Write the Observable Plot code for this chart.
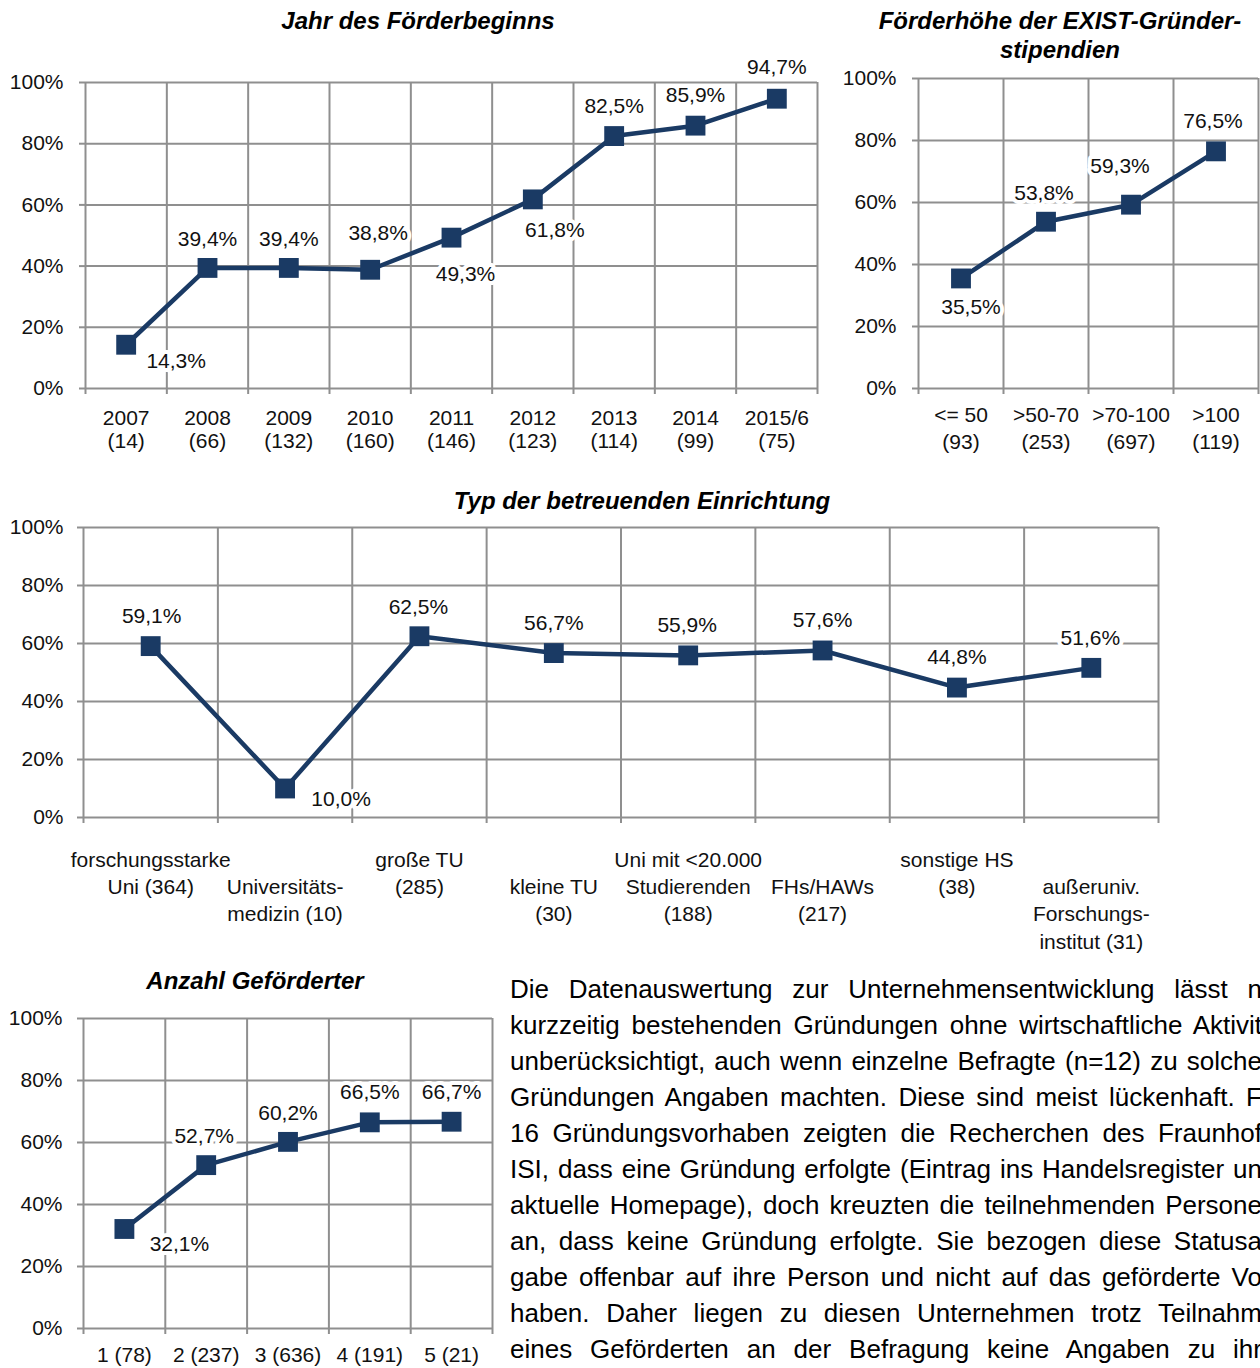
<!DOCTYPE html>
<html><head><meta charset="utf-8">
<script src="https://cdn.jsdelivr.net/npm/d3@7"></script>
<script src="https://cdn.jsdelivr.net/npm/@observablehq/plot@0.6"></script>
<style>
body{margin:0;background:#fff;}
#page{position:relative;width:1260px;height:1368px;overflow:hidden;font-family:"Liberation Sans",Arial,sans-serif;color:#111;background:#fff;}
.chart{position:absolute;}
.chart svg{overflow:visible;}
.title{position:absolute;font-weight:bold;font-style:italic;font-size:24px;line-height:29px;text-align:center;white-space:nowrap;transform:translate(-50%,-50%);color:#000;}
.para{position:absolute;left:510px;top:971px;width:760px;font-size:26px;line-height:36px;color:#000;}
.para div{white-space:nowrap;height:36px;}
.para span{white-space:nowrap;}
</style></head>
<body>
<div id="page">
  <div class="title" style="left:418px;top:20px;">Jahr des Förderbeginns</div>
  <div class="title" style="left:1060px;top:35px;">Förderhöhe der EXIST-Gründer-<br>stipendien</div>
  <div class="title" style="left:642px;top:500px;">Typ der betreuenden Einrichtung</div>
  <div class="title" style="left:255px;top:980px;">Anzahl Geförderter</div>
  <div class="chart" id="c1" style="left:0px;top:40px;"></div>
  <div class="chart" id="c2" style="left:830px;top:50px;"></div>
  <div class="chart" id="c3" style="left:0px;top:510px;"></div>
  <div class="chart" id="c4" style="left:0px;top:1000px;"></div>
  <div class="para" id="para"></div>
</div>
<script>
// ---------- data ----------
const yearCats = ["2007\n(14)", "2008\n(66)", "2009\n(132)", "2010\n(160)", "2011\n(146)", "2012\n(123)", "2013\n(114)", "2014\n(99)", "2015/6\n(75)"];
const yearValues = [0.143, 0.394, 0.394, 0.388, 0.493, 0.618, 0.825, 0.859, 0.947];

const amountCats = ["<= 50\n(93)", ">50-70\n(253)", ">70-100\n(697)", ">100\n(119)"];
const amountValues = [0.355, 0.538, 0.593, 0.765];

const typeCats = ["forschungsstarke\nUni (364)", "Universitäts-\nmedizin (10)", "große TU\n(285)", "kleine TU\n(30)", "Uni mit <20.000\nStudierenden\n(188)", "FHs/HAWs\n(217)", "sonstige HS\n(38)", "außeruniv.\nForschungs-\ninstitut (31)"];
const typeValues = [0.591, 0.100, 0.625, 0.567, 0.559, 0.576, 0.448, 0.516];

const countCats = ["1 (78)", "2 (237)", "3 (636)", "4 (191)", "5 (21)"];
const countValues = [0.321, 0.527, 0.602, 0.665, 0.667];

const yTicks = [0, 0.2, 0.4, 0.6, 0.8, 1];

const paragraphLines = [
  "Die Datenauswertung zur Unternehmensentwicklung lässt n",
  "kurzzeitig bestehenden Gründungen ohne wirtschaftliche Aktivit",
  "unberücksichtigt, auch wenn einzelne Befragte (n=12) zu solche",
  "Gründungen Angaben machten. Diese sind meist lückenhaft. F",
  "16 Gründungsvorhaben zeigten die Recherchen des Fraunhof",
  "ISI, dass eine Gründung erfolgte (Eintrag ins Handelsregister un",
  "aktuelle Homepage), doch kreuzten die teilnehmenden Persone",
  "an, dass keine Gründung erfolgte. Sie bezogen diese Statusa",
  "gabe offenbar auf ihre Person und nicht auf das geförderte Vo",
  "haben. Daher liegen zu diesen Unternehmen trotz Teilnahm",
  "eines Geförderten an der Befragung keine Angaben zu ihr"
];

// ---------- layout (label offsets in px) ----------
const off1 = [[50,17],[0,-29],[0,-29],[8,-37],[14,37],[22,31],[0,-30],[0,-30],[0,-31]];
const off2 = [[10,29],[-2,-28],[-11,-38],[-3,-30]];
const off3 = [[1,-30],[56,11],[-1,-29],[0,-30],[-1,-30],[0,-30],[0,-30],[-1,-30]];
const off4 = [[55,15],[-2,-29],[0,-29],[0,-30],[0,-29]];

const FONT = "Liberation Sans, Arial, sans-serif";
const NAVY = "#1a3a64";
const GRID = "#8f8f8f";
const de = d3.formatLocale({decimal: ",", thousands: ".", grouping: [3], currency: ["", "€"]});
const fmt1 = de.format(".1%");
const fmt0 = de.format(".0%");

function lineChart({cats, values, offsets, width, height, margins, lineHeight, xPad, yPad, stagger}) {
  const n = cats.length;
  const data = values.map((v, k) => ({pos: k + 0.5, v, label: fmt1(v)}));
  const bounds = d3.range(n + 1);
  const labelMarks = data.map((d, k) => Plot.text([d], {
    x: "pos", y: "v", text: "label", dx: offsets[k][0], dy: offsets[k][1],
    fontSize: 21, fill: "#111", stroke: "white", strokeWidth: 8, strokeLinejoin: "round"
  }));
  return Plot.plot({
    width, height, ...margins,
    x: {domain: [0, n], axis: null},
    y: {domain: [0, 1], axis: null},
    style: {fontFamily: FONT, fontSize: "21px", color: "#111", background: "transparent", overflow: "visible"},
    marks: [
      Plot.ruleY(yTicks, {stroke: GRID, strokeWidth: 2}),
      Plot.ruleX(bounds, {stroke: GRID, strokeWidth: 2}),
      Plot.axisY({ticks: yTicks, tickFormat: fmt0, tickSize: 6, tickPadding: yPad, stroke: GRID, strokeWidth: 2, fontSize: 21, label: null}),
      Plot.axisX({ticks: bounds, tickFormat: () => "", tickSize: 6, stroke: GRID, strokeWidth: 2, label: null}),
      Plot.axisX({
        ticks: data.map(d => d.pos),
        tickFormat: t => {
          const k = Math.floor(t);
          return (stagger && k % 2 === 1 ? "\n" : "") + cats[k];
        },
        tickSize: 0, tickPadding: xPad, lineHeight, fontSize: 21, label: null
      }),
      Plot.line(data, {x: "pos", y: "v", stroke: NAVY, strokeWidth: 4.5}),
      Plot.dot(data, {x: "pos", y: "v", symbol: "square", r: 11.2, fill: NAVY}),
      ...labelMarks
    ]
  });
}

document.getElementById("c1").append(lineChart({
  cats: yearCats, values: yearValues, offsets: off1,
  width: 840, height: 430,
  margins: {marginLeft: 85, marginRight: 23, marginTop: 42, marginBottom: 82},
  lineHeight: 1.14, xPad: 19, yPad: 16
}));
document.getElementById("c2").append(lineChart({
  cats: amountCats, values: amountValues, offsets: off2,
  width: 430, height: 420,
  margins: {marginLeft: 88, marginRight: 2, marginTop: 28, marginBottom: 82},
  lineHeight: 1.29, xPad: 14, yPad: 16
}));
document.getElementById("c3").append(lineChart({
  cats: typeCats, values: typeValues, offsets: off3,
  width: 1260, height: 450,
  margins: {marginLeft: 83, marginRight: 102, marginTop: 17, marginBottom: 143},
  lineHeight: 1.3, xPad: 30, yPad: 14, stagger: true
}));
document.getElementById("c4").append(lineChart({
  cats: countCats, values: countValues, offsets: off4,
  width: 500, height: 368,
  margins: {marginLeft: 83, marginRight: 8, marginTop: 18, marginBottom: 40},
  lineHeight: 1.2, xPad: 16, yPad: 15
}));

// paragraph: each line stretched (justified) to a fixed width, clipped at the page edge
const PARA_W = 752;
const para = document.getElementById("para");
const spans = [];
for (const line of paragraphLines) {
  const div = document.createElement("div");
  const span = document.createElement("span");
  span.textContent = line;
  div.append(span);
  para.append(div);
  spans.push(span);
}
function justify() {
  for (const span of spans) {
    span.style.wordSpacing = "0px";
    const w = span.getBoundingClientRect().width;
    const gaps = (span.textContent.match(/ /g) || []).length;
    if (gaps) span.style.wordSpacing = ((PARA_W - w) / gaps) + "px";
  }
}
justify();
if (document.fonts && document.fonts.ready) document.fonts.ready.then(justify);
</script>
</body></html>
